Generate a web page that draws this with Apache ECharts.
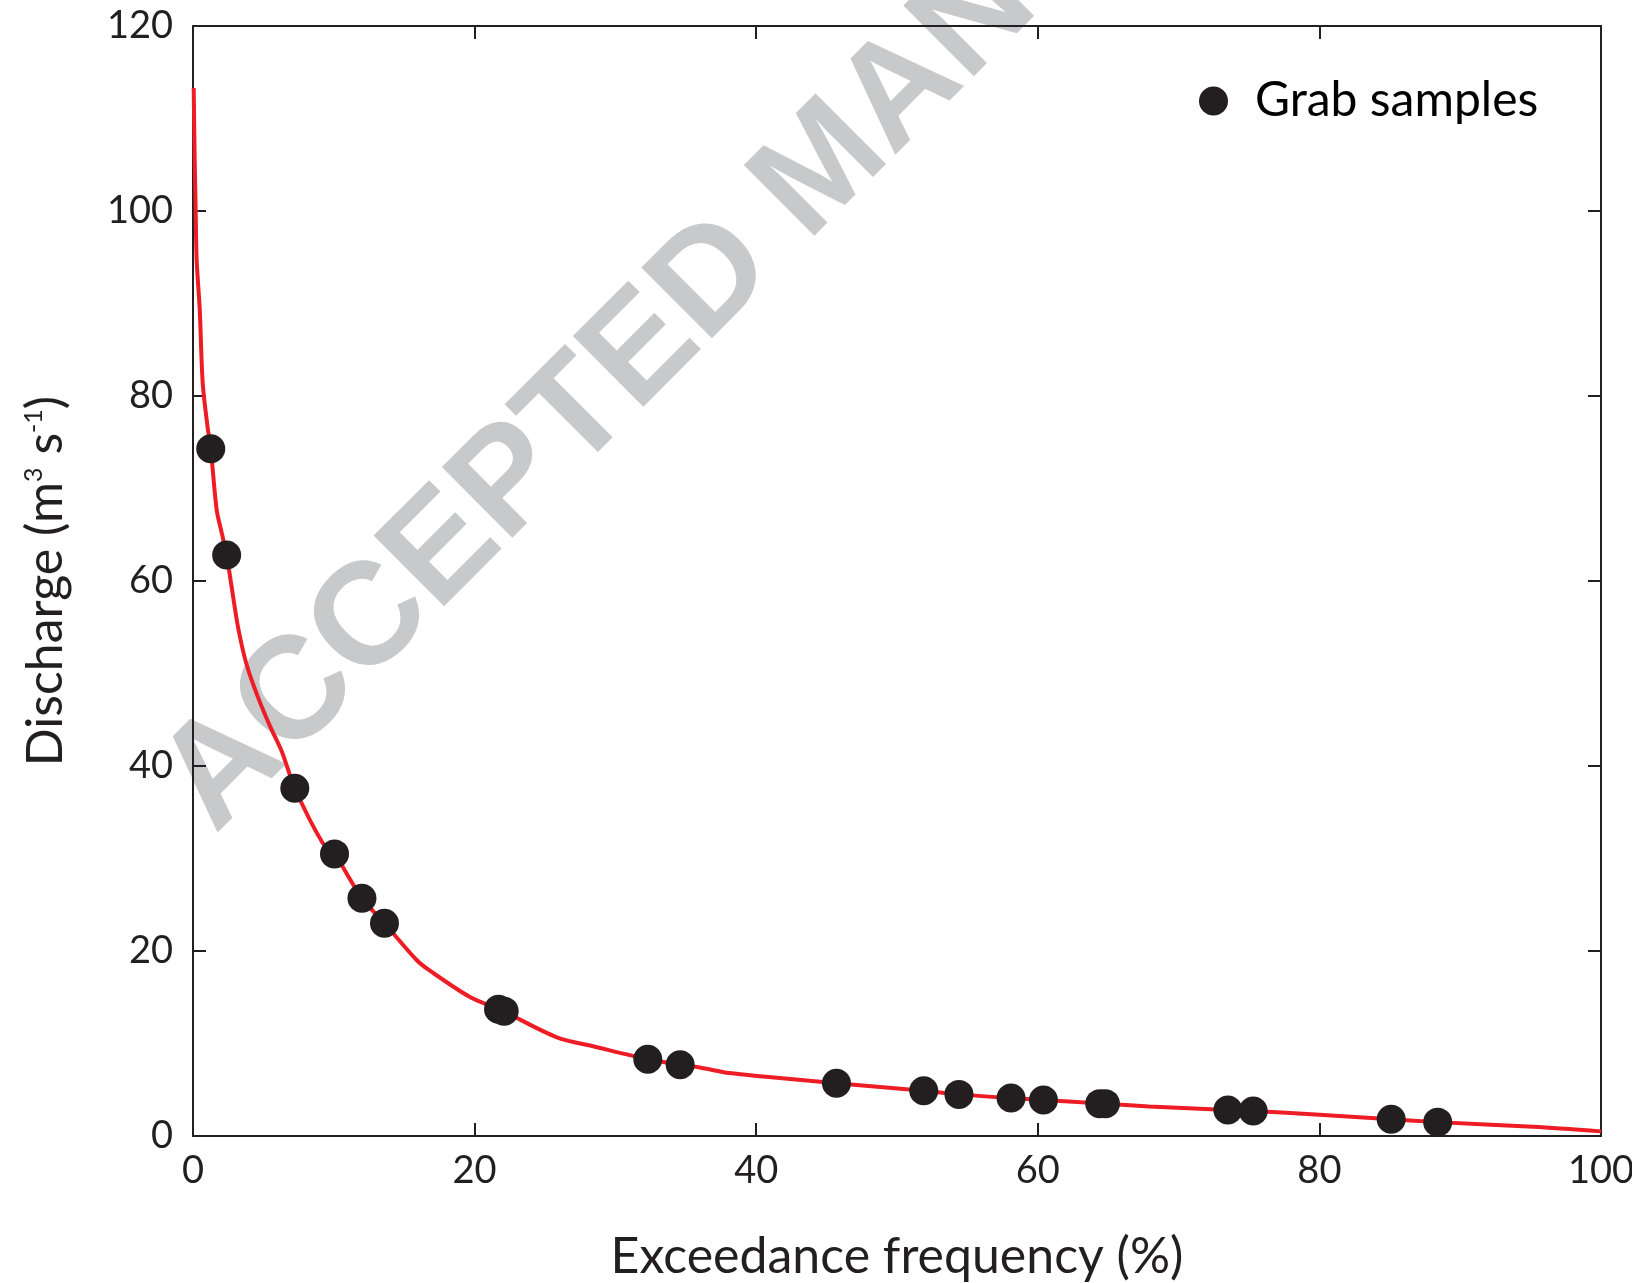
<!DOCTYPE html>
<html>
<head>
<meta charset="utf-8">
<script src="https://cdn.jsdelivr.net/npm/echarts@6/dist/echarts.min.js"></script>
<style>
  html, body { margin: 0; padding: 0; background: #fff; overflow: hidden; }
  #main { width: 1632px; height: 1283px; }
</style>
</head>
<body>
<div id="main"></div>
<script>
// flow duration curve (exceedance %, discharge m3/s)
var curveX = [0.05, 0.12, 0.19, 0.26, 0.48, 0.69, 1.04, 1.26, 1.68, 2.04, 2.39, 2.7, 3.2, 3.8, 4.6, 5.5, 6.3, 7.23, 9.2, 10.05, 12.0, 13.6, 15.9, 16.8, 19.7, 21.9, 25.8, 28.7, 32.3, 34.6, 36.0, 38.1, 40.7, 45.7, 51.9, 54.4, 58.1, 60.4, 64.6, 67.9, 73.5, 75.3, 80.0, 85.1, 88.4, 95.2, 100];
var curveQ = [113.3, 105.5, 100.1, 94.7, 89.3, 81.4, 76.6, 74.3, 67.7, 65.2, 62.8, 59.8, 55.0, 51.0, 47.5, 44.2, 41.6, 37.6, 31.7, 30.5, 25.7, 23.0, 19.0, 17.9, 15.0, 13.6, 10.7, 9.6, 8.3, 7.7, 7.4, 6.8, 6.4, 5.7, 4.9, 4.5, 4.1, 3.9, 3.5, 3.2, 2.8, 2.7, 2.3, 1.8, 1.5, 1.0, 0.5];

// grab samples
var sampleX = [1.26, 2.39, 7.23, 10.05, 12.0, 13.6, 21.7, 22.1, 32.3, 34.6, 45.7, 51.9, 54.4, 58.1, 60.4, 64.4, 64.8, 73.5, 75.3, 85.1, 88.4];
var sampleQ = [74.3, 62.8, 37.6, 30.5, 25.7, 23.0, 13.7, 13.5, 8.3, 7.7, 5.7, 4.9, 4.5, 4.1, 3.9, 3.5, 3.5, 2.8, 2.7, 1.8, 1.5];

var ink = "#231f20";
var font = "Lato";

function pairs(xs, ys) {
  return xs.map(function (x, i) { return [x, ys[i]]; });
}

var boxAxis = function (extra) {
  return Object.assign({
    type: "value",
    axisLine: { show: true, onZero: false, lineStyle: { color: ink, width: 2 } },
    axisTick: { show: true, inside: true, length: 13, lineStyle: { color: ink, width: 2 } },
    splitLine: { show: false },
    axisLabel: { show: false }
  }, extra);
};

var chart = echarts.init(document.getElementById("main"));
chart.setOption({
  animation: false,
  backgroundColor: "#fff",
  textStyle: { fontFamily: font },
  grid: { left: 193, right: 31, top: 26, bottom: 147, outerBoundsMode: "none" },
  legend: {
    data: ["Grab samples"],
    left: 1194,
    top: 72,
    icon: "circle",
    itemWidth: 29,
    itemHeight: 29,
    textStyle: { fontFamily: font, fontSize: 48, color: "#000", padding: [0, 0, 0, 22] }
  },
  graphic: [{
    type: "text",
    x: 238,
    y: 858,
    rotation: Math.PI / 4,
    z: -10,
    silent: true,
    style: {
      text: "ACCEPTED MANUSCRIPT",
      font: "bold 145px 'Liberation Sans'",
      fill: "#c8c9ca",
      textAlign: "left",
      textVerticalAlign: "bottom"
    }
  }],
  xAxis: [
    boxAxis({
      min: 0, max: 100, interval: 20,
      position: "bottom",
      axisLabel: { show: true, fontFamily: font, fontSize: 38, color: ink, margin: 16 },
      name: "Exceedance frequency (%)",
      nameLocation: "middle",
      nameGap: 96,
      nameTextStyle: { fontFamily: font, fontSize: 50, color: ink }
    }),
    boxAxis({ min: 0, max: 100, interval: 20, position: "top" })
  ],
  yAxis: [
    boxAxis({
      min: 0, max: 120, interval: 20,
      position: "left",
      axisLabel: { show: true, fontFamily: font, fontSize: 38, color: ink, margin: 20 },
      name: "{a|Discharge (m}{s|3}{a| s}{s|-1}{a|)}",
      nameLocation: "middle",
      nameRotate: 90,
      nameGap: 122,
      nameTextStyle: {
        rich: {
          a: { fontFamily: font, fontSize: 50, color: ink },
          s: { fontFamily: font, fontSize: 25, color: ink, verticalAlign: "top", padding: [0, 0, 22, 0] }
        }
      }
    }),
    boxAxis({ min: 0, max: 120, interval: 20, position: "right" })
  ],
  series: [
    {
      type: "line",
      data: pairs(curveX, curveQ),
      showSymbol: false,
      smooth: 0.3,
      lineStyle: { color: "#ee1c25", width: 4 },
      z: 2
    },
    {
      name: "Grab samples",
      type: "scatter",
      data: pairs(sampleX, sampleQ),
      symbol: "circle",
      symbolSize: 29,
      itemStyle: { color: ink, opacity: 1 },
      z: 3
    }
  ]
});
</script>
</body>
</html>
